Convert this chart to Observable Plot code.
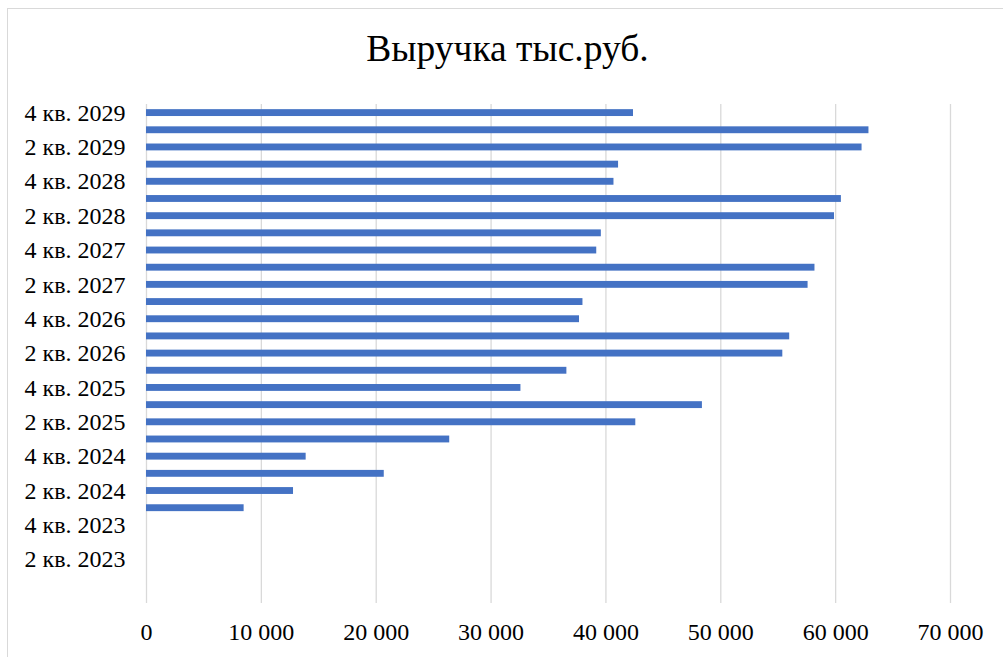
<!DOCTYPE html>
<html>
<head>
<meta charset="utf-8">
<script src="https://cdn.jsdelivr.net/npm/d3@7"></script>
<script src="https://cdn.jsdelivr.net/npm/@observablehq/plot@0.6"></script>
<style>
  html, body { margin: 0; padding: 0; background: #fff; }
  #wrap { position: relative; width: 1003px; height: 657px; overflow: hidden; background: #fff; }
  #frame { position: absolute; left: 7px; top: 8px; width: 1200px; height: 900px; border: 1.5px solid #d9d9d9; box-sizing: border-box; }
  #title { position: absolute; left: 6px; top: 30px; width: 1003px; text-align: center;
           font-family: "Liberation Serif", "Times New Roman", serif; font-size: 37.5px; line-height: 37.5px; color: #000; }
  #chart { position: absolute; left: 0; top: 88px; }
</style>
</head>
<body>
<div id="wrap">
  <div id="frame"></div>
  <div id="title">Выручка тыс.руб.</div>
  <div id="chart"></div>
</div>
<script>
// Categories (bottom to top)
const quarters = [
  "1 кв. 2023", "2 кв. 2023", "3 кв. 2023", "4 кв. 2023",
  "1 кв. 2024", "2 кв. 2024", "3 кв. 2024", "4 кв. 2024",
  "1 кв. 2025", "2 кв. 2025", "3 кв. 2025", "4 кв. 2025",
  "1 кв. 2026", "2 кв. 2026", "3 кв. 2026", "4 кв. 2026",
  "1 кв. 2027", "2 кв. 2027", "3 кв. 2027", "4 кв. 2027",
  "1 кв. 2028", "2 кв. 2028", "3 кв. 2028", "4 кв. 2028",
  "1 кв. 2029", "2 кв. 2029", "3 кв. 2029", "4 кв. 2029"
];
// Revenue, thousand rubles
const revenue = [
  0, 0, 0, 0,
  8500, 12800, 20700, 13900,
  26400, 42600, 48400, 32600,
  36600, 55400, 56000, 37700,
  38000, 57600, 58200, 39200,
  39600, 59900, 60500, 40700,
  41100, 62300, 62900, 42400
];
// Tick labels shown on the category axis
const yTickLabels = [
  "2 кв. 2023", "4 кв. 2023", "2 кв. 2024", "4 кв. 2024",
  "2 кв. 2025", "4 кв. 2025", "2 кв. 2026", "4 кв. 2026",
  "2 кв. 2027", "4 кв. 2027", "2 кв. 2028", "4 кв. 2028",
  "2 кв. 2029", "4 кв. 2029"
];
const xTicks = [0, 10000, 20000, 30000, 40000, 50000, 60000, 70000];

const data = quarters.map((q, i) => ({quarter: q, value: revenue[i]}));
const fmt = d => d3.format(",")(d).replace(/,/g, " ");

const chart = Plot.plot({
  width: 1003,
  height: 569,
  marginLeft: 146,
  marginRight: 53,
  marginTop: 16,
  marginBottom: 72,
  style: {fontFamily: "Liberation Serif, Times New Roman, serif", fontSize: "24px", color: "#000", background: "transparent"},
  x: {domain: [0, 70000]},
  y: {type: "band", domain: quarters.slice().reverse(), paddingInner: 0.6, paddingOuter: 0.3, round: false},
  marks: [
    Plot.gridX(xTicks, {stroke: "#d9d9d9", strokeOpacity: 1, strokeWidth: 1.3}),
    Plot.axisX({ticks: xTicks, tickSize: 18, tickPadding: 19, stroke: "#d9d9d9", strokeOpacity: 1, strokeWidth: 1.3, tickFormat: fmt, label: null, fill: "#000", fontSize: 24}),
    Plot.axisY({ticks: yTickLabels, tickSize: 0, tickPadding: 21, label: null, fill: "#000", fontSize: 24}),
    Plot.barX(data, {x: "value", y: "quarter", fill: "#4472C4"})
  ]
});
document.getElementById("chart").appendChild(chart);
</script>
</body>
</html>
